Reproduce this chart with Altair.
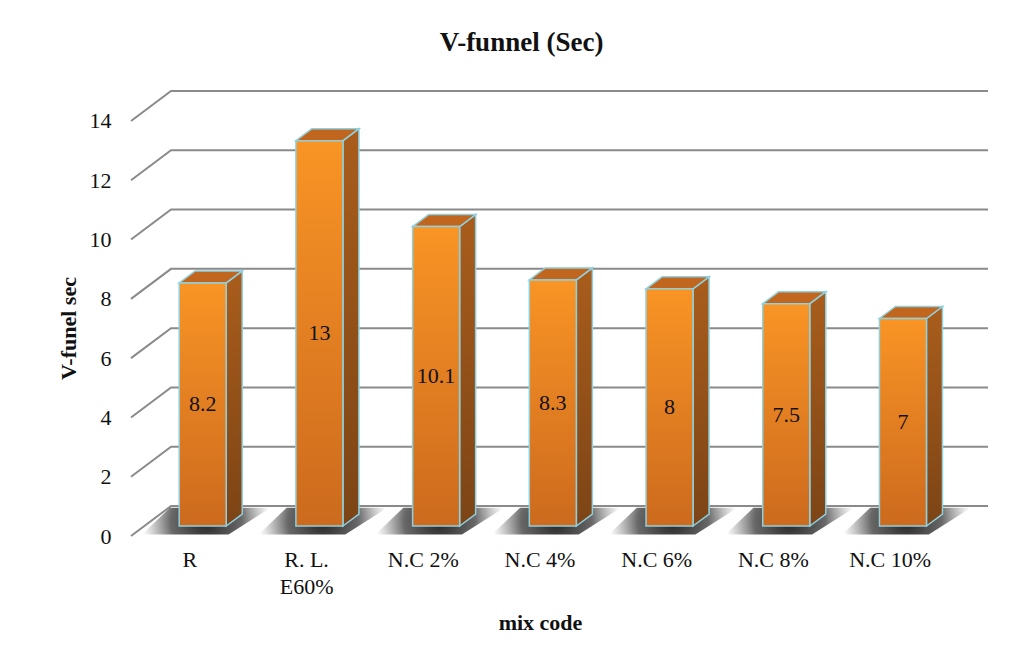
import altair as alt
import pandas as pd

# ---- data ----
names = ["R", "R. L.|E60%", "N.C 2%", "N.C 4%", "N.C 6%", "N.C 8%", "N.C 10%"]
values = [8.2, 13, 10.1, 8.3, 8, 7.5, 7]
yticks = [0, 2, 4, 6, 8, 10, 12, 14]

# ---- 3-D geometry (in scale units) ----
DX, DY = 0.343, 1.012      # full depth of the floor / walls
F = 1 / 3                  # depth where the bar front sits
BD = 0.4                   # bar depth as fraction of full depth
BW = 0.403                 # bar width (category units)
n = len(names)

bars, side, top, shadow = [], [], [], []
for i, (nm, v) in enumerate(zip(names, values)):
    c = i + 0.5 + F * DX
    xl, xr = c - BW / 2, c + BW / 2
    yb = F * DY
    yt = yb + v
    bars.append(dict(id=i, value=v, label=f"{v:g}", xl=xl, xr=xr, yb=yb, yt=yt,
                     xm=c, ym=(yb + yt) / 2))
    side.append(dict(id=i, x=xr, ylo=yb, yhi=yt))
    side.append(dict(id=i, x=xr + BD * DX, ylo=yb + BD * DY, yhi=yt + BD * DY))
    top.append(dict(id=i, y=yt, xa=xl, xb=xr))
    top.append(dict(id=i, y=yt + BD * DY, xa=xl + BD * DX, xb=xr + BD * DX))
    shadow.append(dict(id=i, y=0.05, xa=xl - 0.32, xb=xr + 0.02))
    shadow.append(dict(id=i, y=0.95, xa=xl - 0.08, xb=xr + 0.38))

grid = []
for t in yticks:
    grid.append(dict(t=t, o=0, x=0, y=t))
    grid.append(dict(t=t, o=1, x=DX, y=t + DY))
    grid.append(dict(t=t, o=2, x=n + DX, y=t + DY))

bars_df = pd.DataFrame(bars)
side_df = pd.DataFrame(side)
top_df = pd.DataFrame(top)
shadow_df = pd.DataFrame(shadow)
grid_df = pd.DataFrame(grid)

FONT = "Liberation Serif"
xs = alt.Scale(domain=[0, n + DX], nice=False, zero=False)
ys = alt.Scale(domain=[0, 14 + DY], nice=False, zero=False)

label_list = "[" + ",".join("'" + s + "'" for s in names) + "]"
x_axis = alt.Axis(
    values=[i + 0.5 for i in range(n)],
    labelExpr=f"split({label_list}[floor(datum.value)], '|')",
    grid=False, ticks=False, domain=False,
    labelFont=FONT, labelFontSize=22, labelColor="#111", labelPadding=13,
    labelLineHeight=27, labelBaseline="top",
    title="mix code", titleFont=FONT, titleFontSize=22, titleFontWeight="bold",
    titleColor="#111", titleX=409, titleY=86, titleBaseline="middle", titleAnchor="start",
    titleAlign="center",
)
y_axis = alt.Axis(
    values=yticks, grid=False, ticks=False, domain=False,
    labelFont=FONT, labelFontSize=22, labelColor="#111", labelPadding=20,
    title="V-funel sec", titleFont=FONT, titleFontSize=22, titleFontWeight="bold",
    titleColor="#111", titleAngle=-90, titleX=-63, titleY=237,
    titleAlign="center", titleBaseline="middle",
)

gridlines = alt.Chart(grid_df).mark_line(color="#8a8a8a", strokeWidth=2).encode(
    x=alt.X("x:Q", scale=xs, axis=x_axis),
    y=alt.Y("y:Q", scale=ys, axis=y_axis),
    detail="t:N",
    order="o:Q",
)

shadow_layer = alt.Chart(shadow_df).mark_area(
    orient="horizontal",
    color={"gradient": "radial", "x1": 0.5, "y1": 0.5, "r1": 0,
           "x2": 0.5, "y2": 0.5, "r2": 0.5,
           "stops": [{"offset": 0, "color": "rgba(25,25,25,0.95)"},
                     {"offset": 0.55, "color": "rgba(40,40,40,0.7)"},
                     {"offset": 1, "color": "rgba(80,80,80,0)"}]},
).encode(
    y=alt.Y("y:Q", scale=ys, axis=y_axis, stack=None),
    x=alt.X("xa:Q", scale=xs, axis=x_axis, stack=None),
    x2="xb:Q",
    detail="id:N",
)

front = alt.Chart(bars_df).mark_rect(
    color={"gradient": "linear", "x1": 0, "y1": 0, "x2": 0, "y2": 1,
           "stops": [{"offset": 0, "color": "#F99425"},
                     {"offset": 1, "color": "#CC6A1E"}]},
    stroke="#8FD0E0", strokeWidth=1.5,
).encode(
    x=alt.X("xl:Q", scale=xs, axis=x_axis),
    x2="xr:Q",
    y=alt.Y("yb:Q", scale=ys, axis=y_axis),
    y2="yt:Q",
)

side_layer = alt.Chart(side_df).mark_area(
    orient="vertical",
    color={"gradient": "linear", "x1": 0, "y1": 0, "x2": 0, "y2": 1,
           "stops": [{"offset": 0, "color": "#A95D1C"},
                     {"offset": 1, "color": "#7C4416"}]},
    stroke="#8FD0E0", strokeWidth=1.5,
).encode(
    x=alt.X("x:Q", scale=xs, axis=x_axis, stack=None),
    y=alt.Y("ylo:Q", scale=ys, axis=y_axis, stack=None),
    y2="yhi:Q",
    detail="id:N",
)

top_layer = alt.Chart(top_df).mark_area(
    orient="horizontal", color="#C0661E", stroke="#8FD0E0", strokeWidth=1.5,
).encode(
    y=alt.Y("y:Q", scale=ys, axis=y_axis, stack=None),
    x=alt.X("xa:Q", scale=xs, axis=x_axis, stack=None),
    x2="xb:Q",
    detail="id:N",
)

text_layer = alt.Chart(bars_df).mark_text(
    font=FONT, fontSize=22, color="#111", baseline="middle", align="center",
).encode(
    x=alt.X("xm:Q", scale=xs, axis=x_axis),
    y=alt.Y("ym:Q", scale=ys, axis=y_axis),
    text="label:N",
)

chart = alt.layer(
    gridlines, shadow_layer, side_layer, top_layer, front, text_layer
).properties(
    width=857, height=445,
    autosize=alt.AutoSizeParams(type="none"),
    padding={"left": 123, "top": 83, "right": 26, "bottom": 110},
    title=alt.TitleParams(
        "V-funnel (Sec)", font=FONT, fontSize=27, fontWeight="bold", color="#111",
        anchor="middle", offset=30, dx=-38,
    ),
).configure_view(stroke=None)

chart.save("out.html", embed_options={"renderer": "svg", "actions": False})
